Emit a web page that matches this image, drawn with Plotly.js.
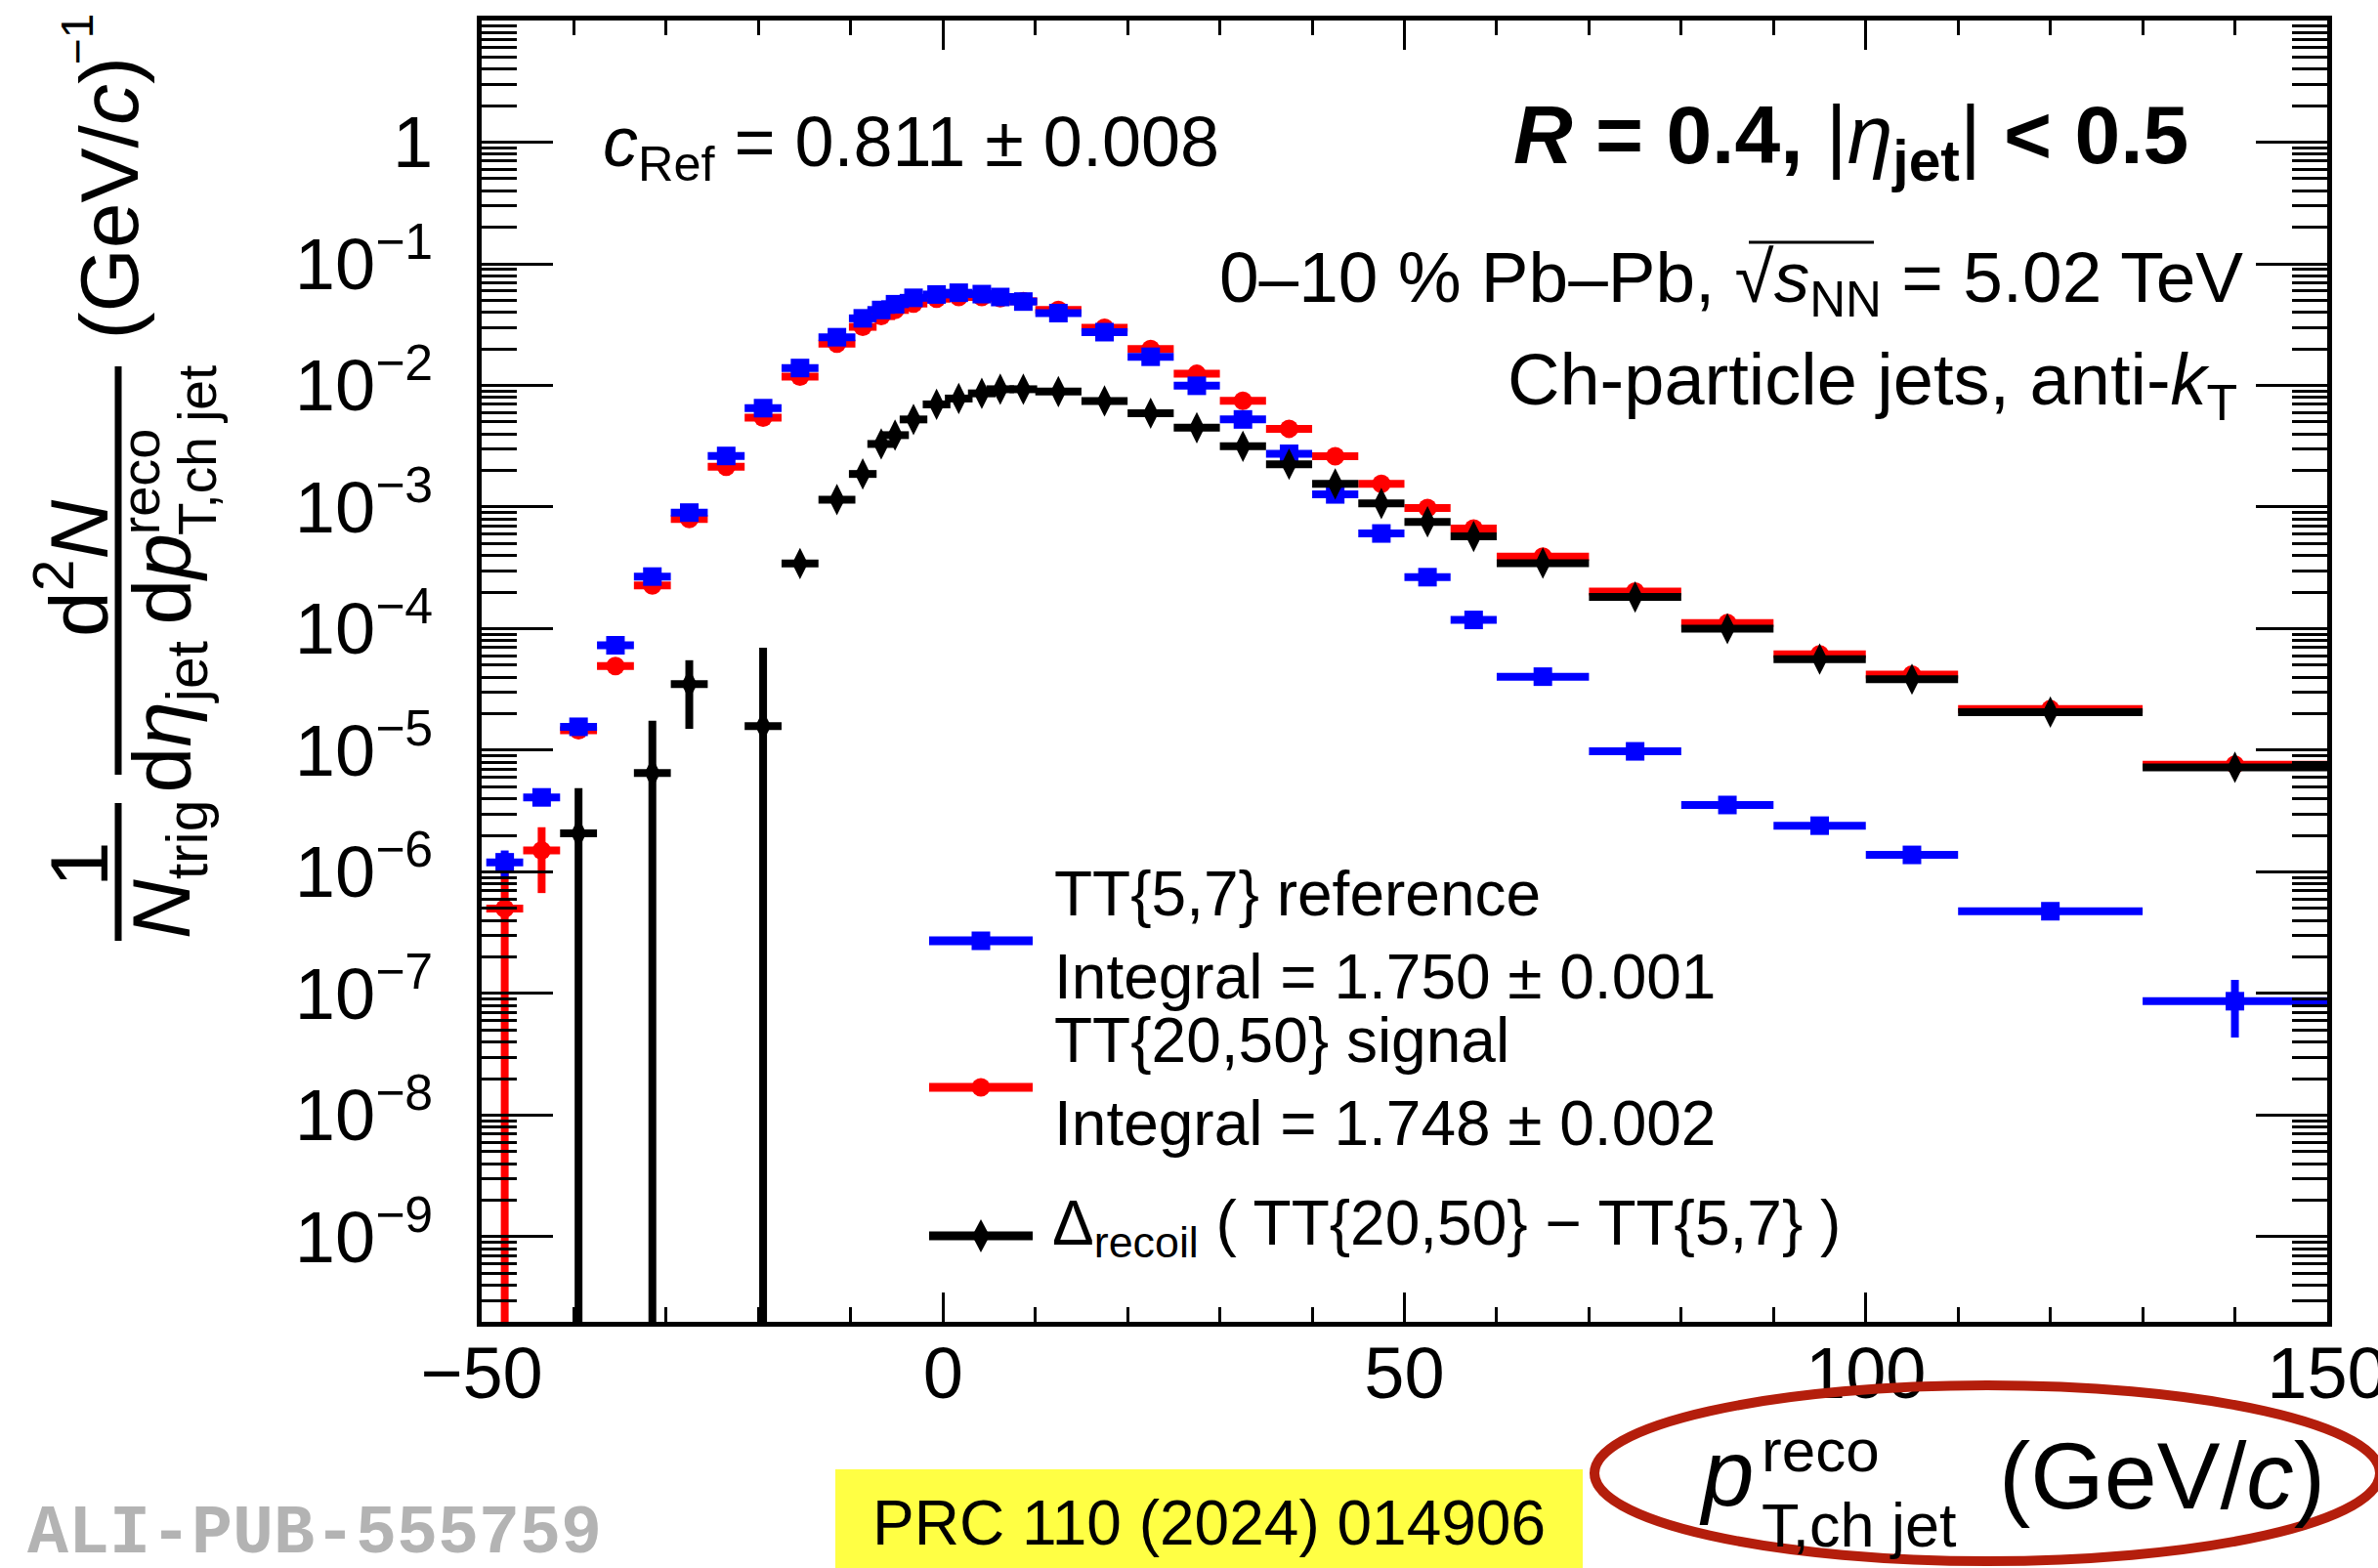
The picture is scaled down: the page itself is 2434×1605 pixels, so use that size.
<!DOCTYPE html>
<html>
<head>
<meta charset="utf-8">
<script src="https://cdn.plot.ly/plotly-3.0.1.min.js"></script>
<style>
html,body{margin:0;padding:0;background:#fff;}
#chart{width:2434px;height:1605px;}
</style>
</head>
<body>
<div id="chart"></div>
<script>
// ---------------- data ----------------
const binCenters = [-47.5, -43.5, -39.5, -35.5, -31.5, -27.5, -23.5, -19.5, -15.5, -11.5,
  -8.7, -6.7, -5.2, -3.2, -0.7, 1.7, 4.2, 6.2, 8.7,
  12.5, 17.5, 22.5, 27.5, 32.5, 37.5, 42.5, 47.5, 52.5, 57.5,
  65, 75, 85, 95, 105, 120, 140];
const binHalfWidths = [2, 2, 2, 2, 2, 2, 2, 2, 2, 2,
  1.5, 1.5, 1.5, 1.5, 1.5, 1.5, 1.5, 1.5, 1.5,
  2.5, 2.5, 2.5, 2.5, 2.5, 2.5, 2.5, 2.5, 2.5, 2.5,
  5, 5, 5, 5, 5, 10, 10];

// TT{5,7} reference (blue)
const refTT57 = [1.2e-6, 4.1e-6, 1.56e-5, 7.3e-5, 2.68e-4, 9.0e-4, 2.63e-3, 6.5e-3, 0.0139, 0.0249,
  0.0356, 0.0417, 0.0465, 0.0525, 0.0559, 0.0578, 0.0563, 0.0533, 0.0489,
  0.0393, 0.0274, 0.0172, 0.00993, 0.00525, 0.00274, 0.00127, 6.06e-4, 2.65e-4, 1.18e-4,
  4.03e-5, 9.8e-6, 3.55e-6, 2.4e-6, 1.38e-6, 4.75e-7, 8.65e-8];
const refTT57Err = [3e-7, 3e-7, 1e-6, 2e-6, 4e-6, 8e-6, 1.5e-5, 3e-5, 5e-5, 8e-5,
  1e-4, 1e-4, 1e-4, 1e-4, 1e-4, 1e-4, 1e-4, 1e-4, 1e-4,
  8e-5, 6e-5, 4e-5, 3e-5, 2e-5, 1.5e-5, 1e-5, 6e-6, 4e-6, 2e-6,
  8e-7, 3e-7, 2e-7, 1.5e-7, 1.2e-7, 6e-8, 4.3e-8];

// TT{20,50} signal (red)
const sigTT2050 = [5.0e-7, 1.5e-6, 1.46e-5, 4.93e-5, 2.27e-4, 7.96e-4, 2.14e-3, 5.43e-3, 0.0118, 0.0220,
  0.0303, 0.0371, 0.0417, 0.0471, 0.0516, 0.0533, 0.0533, 0.0520, 0.0492,
  0.0417, 0.0298, 0.0199, 0.01246, 0.00748, 0.0044, 0.00262, 0.00155, 9.8e-4, 6.65e-4,
  3.91e-4, 2.02e-4, 1.11e-4, 6.15e-5, 4.2e-5, 2.18e-5, 7.6e-6];
const sigTT2050Err = [5.2e-7, 8.3e-7, 2e-6, 4e-6, 1e-5, 2e-5, 4e-5, 8e-5, 1.2e-4, 2e-4,
  2e-4, 2e-4, 2e-4, 2e-4, 2e-4, 2e-4, 2e-4, 2e-4, 2e-4,
  2e-4, 1.5e-4, 1e-4, 8e-5, 6e-5, 4e-5, 3e-5, 2e-5, 1.5e-5, 1.2e-5,
  6e-6, 4e-6, 3e-6, 2e-6, 1.5e-6, 8e-7, 5e-7];

// Delta_recoil (black); null where the difference is not positive
const deltaRecoil = [null, null, 2.08e-6, null, 6.5e-6, 3.5e-5, null, 1.58e-5, 3.43e-4, 1.15e-3,
  1.87e-3, 3.3e-3, 3.9e-3, 5.25e-3, 6.98e-3, 7.8e-3, 8.6e-3, 9.3e-3, 9.3e-3,
  8.9e-3, 7.45e-3, 5.9e-3, 4.49e-3, 3.16e-3, 2.25e-3, 1.55e-3, 1.07e-3, 7.55e-4, 5.73e-4,
  3.46e-4, 1.82e-4, 1.0e-4, 5.62e-5, 3.84e-5, 2.06e-5, 7.24e-6];
const deltaRecoilErr = [0, 0, 2.8e-6, 0, 1.1e-5, 2.0e-5, 0, 5.4e-5, 2e-5, 5e-5,
  1e-4, 1.5e-4, 2e-4, 2e-4, 2e-4, 2e-4, 2e-4, 2e-4, 2e-4,
  2e-4, 2e-4, 1.2e-4, 1e-4, 7e-5, 5e-5, 4e-5, 3e-5, 2e-5, 1.5e-5,
  8e-6, 5e-6, 3e-6, 2e-6, 1.6e-6, 8e-7, 5e-7];

// ticks
const xTickVals = [-50, 0, 50, 100, 150];
const xTickText = ['\u221250', '0', '50', '100', '150'];
const yTickVals = [1e-9, 1e-8, 1e-7, 1e-6, 1e-5, 1e-4, 1e-3, 1e-2, 1e-1, 1];
const yTickText = ['10<sup>\u22129</sup>', '10<sup>\u22128</sup>', '10<sup>\u22127</sup>', '10<sup>\u22126</sup>',
  '10<sup>\u22125</sup>', '10<sup>\u22124</sup>', '10<sup>\u22123</sup>', '10<sup>\u22122</sup>',
  '10<sup>\u22121</sup>', '1'];

// legend / labels text
const legendLabels = ['TT{5,7} reference', 'Integral = 1.750 \u00b1 0.001',
  'TT{20,50} signal', 'Integral = 1.748 \u00b1 0.002',
  '\u0394<sub>recoil</sub> ( TT{20,50} \u2212 TT{5,7} )'];

// ---------------- geometry helpers ----------------
const FONT = 'Liberation Sans, Arial, Helvetica, sans-serif';
const W = 2434, H = 1605;
const L = 493, R = 2382, T = 21, B = 1353;
const xp = X => (X - L) / (R - L);
const yp = Y => (B - Y) / (B - T);

function ann(text, X, Y, size, opts) {
  return Object.assign({
    text: text, x: xp(X), y: yp(Y), xref: 'paper', yref: 'paper',
    showarrow: false, font: {family: FONT, size: size, color: '#000'},
    xanchor: 'center', yanchor: 'middle', borderpad: 0, borderwidth: 0
  }, opts || {});
}

function series(y, err, color, symbol, size) {
  return {
    type: 'scatter', mode: 'markers', x: binCenters, y: y,
    marker: {color: color, symbol: symbol, size: size, line: {width: 0}},
    error_x: {type: 'data', array: binHalfWidths, visible: true, color: color, thickness: 8, width: 0},
    error_y: {type: 'data', array: err, visible: true, color: color, thickness: 8, width: 0},
    showlegend: false, hoverinfo: 'skip', cliponaxis: true
  };
}

const traces = [
  series(sigTT2050, sigTT2050Err, '#ff0000', 'circle', 19),
  series(refTT57, refTT57Err, '#0000ff', 'square', 19),
  series(deltaRecoil, deltaRecoilErr, '#000000', 'diamond-tall', 23)
];

const annotations = [
  ann('<i>c</i><sub>Ref</sub> = 0.811 \u00b1 0.008', 617, 151, 72, {xanchor: 'left'}),
  ann('<b><i>R</i> = 0.4, </b>|<i>\u03b7</i><b><sub>jet</sub></b>|<b> &lt; 0.5</b>', 2240, 144, 84, {xanchor: 'right'}),
  ann('0\u201310 % Pb\u2013Pb, \u221a<i>s</i><sub>NN</sub> = 5.02 TeV', 2296, 289, 73, {xanchor: 'right'}),
  ann('Ch-particle jets, anti-<i>k</i><sub>T</sub>', 2290, 394, 74, {xanchor: 'right'}),
  ann(legendLabels[0], 1079, 915, 64, {xanchor: 'left'}),
  ann(legendLabels[1], 1079, 1000, 64, {xanchor: 'left'}),
  ann(legendLabels[2], 1079, 1065, 64, {xanchor: 'left'}),
  ann(legendLabels[3], 1079, 1150, 64, {xanchor: 'left'}),
  ann(legendLabels[4], 1077, 1256, 64, {xanchor: 'left'}),
  ann('PRC 110 (2024) 014906', 1237.5, 1559, 64, {bgcolor: '#ffff44', width: 765, height: 110}),
  ann('<b>ALI-PUB-555759</b>', 28, 1570, 70, {xanchor: 'left', font: {family: 'Liberation Mono, DejaVu Sans Mono, monospace', size: 70, color: '#b3b3b3'}}),
  // x-axis title
  ann('<i>p</i>', 1739, 1507, 96, {xanchor: 'left'}),
  ann('reco', 1803, 1484, 62, {xanchor: 'left'}),
  ann('T,ch jet', 1803, 1561, 63, {xanchor: 'left'}),
  ann('(GeV/<i>c</i>)', 2046, 1510, 97, {xanchor: 'left'}),
  // y-axis title (rotated)
  ann('(GeV/<i>c</i>)', 111, 348, 84, {textangle: -90, yanchor: 'bottom'}),
  ann('\u22121', 79, 66, 46, {textangle: -90, yanchor: 'bottom'}),
  ann('d<sup>2</sup><i>N</i>', 75, 652, 84, {textangle: -90, yanchor: 'bottom'}),
  ann('1', 81, 885, 84, {textangle: -90}),
  ann('<i>N</i><sub>trig</sub>', 171, 961, 84, {textangle: -90, yanchor: 'bottom'}),
  ann('d<i>\u03b7</i><sub>jet</sub>', 171, 812, 84, {textangle: -90, yanchor: 'bottom'}),
  ann('d<i>p</i>', 165, 640, 84, {textangle: -90, yanchor: 'bottom'}),
  ann('reco', 143, 548, 56, {textangle: -90, yanchor: 'bottom'}),
  ann('T,ch jet', 202, 548, 55, {textangle: -90, yanchor: 'bottom'})
];

function pline(x0, y0, x1, y1, color, width) {
  return {type: 'line', xref: 'paper', yref: 'paper', x0: xp(x0), y0: yp(y0), x1: xp(x1), y1: yp(y1),
    line: {color: color, width: width}};
}
const shapes = [
  // fraction bars of y title
  pline(121, 375, 121, 793, '#000', 7),
  pline(121, 822, 121, 963, '#000', 7),
  // sqrt overline
  pline(1790, 248, 1918, 248, '#000', 3),
  // legend keys
  pline(951, 963, 1057, 963, '#0000ff', 9),
  {type: 'rect', xref: 'paper', yref: 'paper', x0: xp(994.5), x1: xp(1013.5), y0: yp(953.5), y1: yp(972.5),
    fillcolor: '#0000ff', line: {width: 0}},
  pline(951, 1113, 1057, 1113, '#ff0000', 9),
  {type: 'circle', xref: 'paper', yref: 'paper', x0: xp(994.5), x1: xp(1013.5), y0: yp(1103.5), y1: yp(1122.5),
    fillcolor: '#ff0000', line: {width: 0}},
  pline(951, 1265, 1057, 1265, '#000000', 9),
  {type: 'path', xref: 'paper', yref: 'paper',
    path: 'M' + xp(1004) + ',' + yp(1248) + ' L' + xp(1013) + ',' + yp(1265) + ' L' + xp(1004) + ',' + yp(1282) +
      ' L' + xp(995) + ',' + yp(1265) + ' Z', fillcolor: '#000', line: {width: 0}},
  // highlight ellipse around x title
  {type: 'circle', xref: 'paper', yref: 'paper', x0: xp(1632), x1: xp(2436), y0: yp(1418), y1: yp(1598),
    line: {color: '#b41e0c', width: 10}, fillcolor: 'rgba(0,0,0,0)'}
];

const layout = {
  width: W, height: H,
  margin: {l: L, r: W - R, t: T, b: H - B, pad: 0},
  paper_bgcolor: '#ffffff', plot_bgcolor: '#ffffff',
  showlegend: false,
  font: {family: FONT, color: '#000'},
  xaxis: {
    range: [-50, 150], tickmode: 'array', tickvals: xTickVals, ticktext: xTickText,
    ticks: 'inside', ticklen: 30, tickwidth: 3, tickcolor: '#000',
    showline: true, linewidth: 5, linecolor: '#000', mirror: 'ticks',
    showgrid: false, zeroline: false, tickfont: {family: FONT, size: 74, color: '#000'},
    ticklabelstandoff: -16, ticklabeloverflow: 'allow',
    minor: {dtick: 10, tick0: 0, ticks: 'inside', ticklen: 15, tickwidth: 3, tickcolor: '#000', showgrid: false}
  },
  yaxis: {
    type: 'log', range: [Math.log10(2e-10), 1], tickmode: 'array', tickvals: yTickVals, ticktext: yTickText,
    ticks: 'inside', ticklen: 73, tickwidth: 3, tickcolor: '#000',
    showline: true, linewidth: 5, linecolor: '#000', mirror: 'ticks',
    showgrid: false, zeroline: false, tickfont: {family: FONT, size: 74, color: '#000'},
    ticklabelstandoff: 30, ticklabeloverflow: 'allow',
    minor: {dtick: 'D1', ticks: 'inside', ticklen: 36, tickwidth: 3, tickcolor: '#000', showgrid: false}
  },
  annotations: annotations,
  shapes: shapes
};

Plotly.newPlot('chart', traces, layout, {displayModeBar: false, staticPlot: true});
</script>
</body>
</html>
